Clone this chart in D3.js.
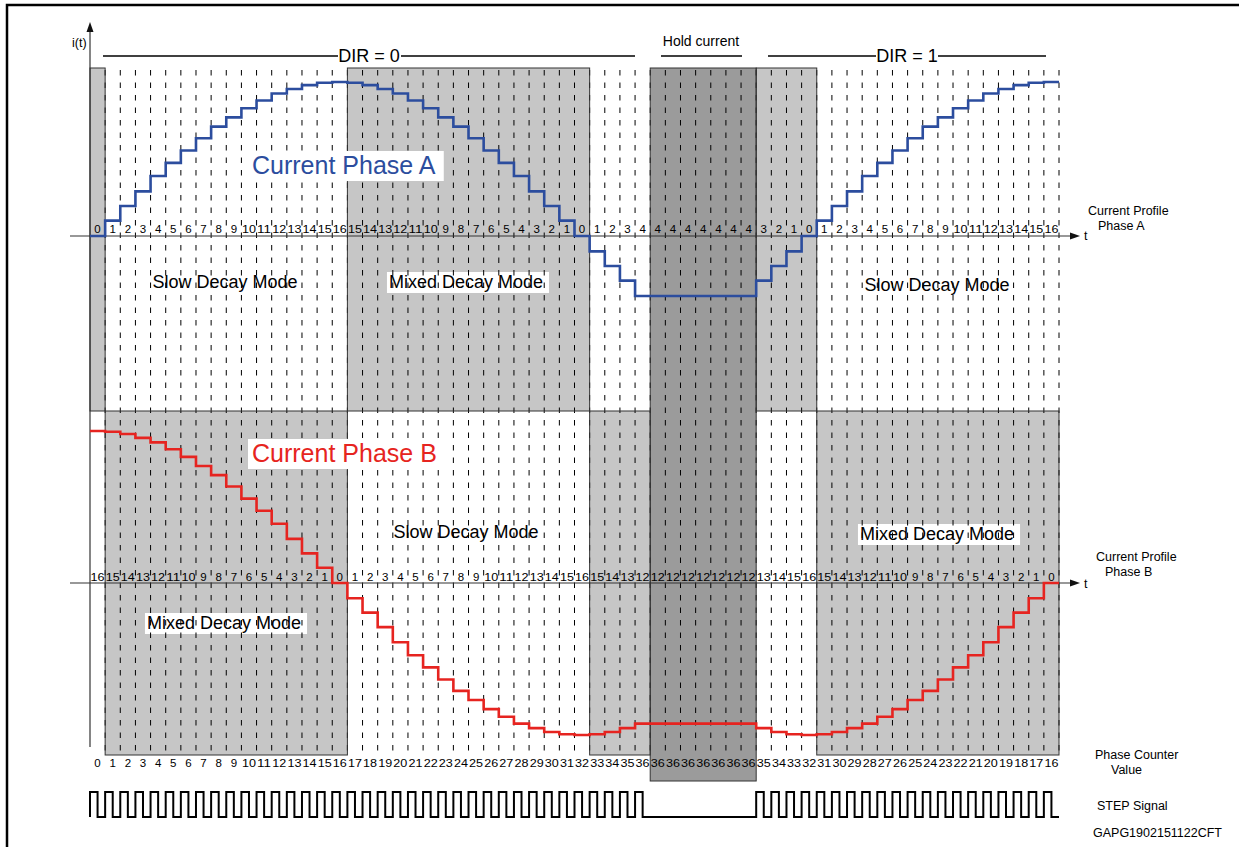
<!DOCTYPE html>
<html lang="en">
<head>
<meta charset="UTF-8" />
<title>Stepper current profile</title>
<script src="https://d3js.org/d3.v7.min.js"></script>
<style>
    body { margin: 0; background: #fff; }
    svg text { font-family: "Liberation Sans", Arial, sans-serif; }
</style>
</head>
<body>
<svg id="chart" width="1239" height="847"></svg>
<script>
    // microstep current table, % of full scale
    var levels = [0, 10, 19.5, 29, 39, 47.5, 55.5, 63.5, 71, 77, 83, 88, 92.5, 95.5, 98, 99.5, 100];

    // signed microstep index for every STEP column (64 columns)
    var phaseA = [0, 1, 2, 3, 4, 5, 6, 7, 8, 9, 10, 11, 12, 13, 14, 15, 16,
        15, 14, 13, 12, 11, 10, 9, 8, 7, 6, 5, 4, 3, 2, 1, 0,
        -1, -2, -3, -4,
        -4, -4, -4, -4, -4, -4, -4,
        -3, -2, -1, 0,
        1, 2, 3, 4, 5, 6, 7, 8, 9, 10, 11, 12, 13, 14, 15, 16];

    var phaseB = [16, 15, 14, 13, 12, 11, 10, 9, 8, 7, 6, 5, 4, 3, 2, 1, 0,
        -1, -2, -3, -4, -5, -6, -7, -8, -9, -10, -11, -12, -13, -14, -15, -16,
        -15, -14, -13, -12,
        -12, -12, -12, -12, -12, -12, -12,
        -13, -14, -15, -16,
        -15, -14, -13, -12, -11, -10, -9, -8, -7, -6, -5, -4, -3, -2, -1, 0];

    // phase counter value per column
    var counter = [0, 1, 2, 3, 4, 5, 6, 7, 8, 9, 10, 11, 12, 13, 14, 15, 16,
        17, 18, 19, 20, 21, 22, 23, 24, 25, 26, 27, 28, 29, 30, 31, 32,
        33, 34, 35, 36,
        36, 36, 36, 36, 36, 36, 36,
        35, 34, 33, 32,
        31, 30, 29, 28, 27, 26, 25, 24, 23, 22, 21, 20, 19, 18, 17, 16];

    // 1 = a STEP pulse in that column, 0 = no pulse (hold)
    var stepPulse = [1, 1, 1, 1, 1, 1, 1, 1, 1, 1, 1, 1, 1, 1, 1, 1, 1,
        1, 1, 1, 1, 1, 1, 1, 1, 1, 1, 1, 1, 1, 1, 1, 1,
        1, 1, 1, 1,
        0, 0, 0, 0, 0, 0, 0,
        1, 1, 1, 1,
        1, 1, 1, 1, 1, 1, 1, 1, 1, 1, 1, 1, 1, 1, 1, 1];

    // shaded column ranges [from, to)
    var upperShade = [[0, 1], [17, 33], [44, 48]];
    var lowerShade = [[1, 17], [33, 37], [48, 64]];
    var holdShade = [37, 44];

    var svg = d3.select("#chart");

    var x = d3.scaleLinear().domain([0, phaseA.length]).range([90, 1059]);
    var yA = d3.scaleLinear().domain([-100, 100]).range([390, 82]);
    var yB = d3.scaleLinear().domain([-100, 100]).range([735, 431]);

    var yTop = 68, yMid = 411, yBottom = 755;

    // outer frame
    svg.append("rect")
        .attr("x", 7).attr("y", 5).attr("width", 1245).attr("height", 860)
        .attr("fill", "none").attr("stroke", "#000").attr("stroke-width", 2.5);

    // shaded blocks (fill only)
    var shadeRects = [];
    upperShade.forEach(function (r) { shadeRects.push({ a: r[0], b: r[1], y0: yTop, y1: yMid, fill: "#c6c6c6" }); });
    lowerShade.forEach(function (r) { shadeRects.push({ a: r[0], b: r[1], y0: yMid, y1: yBottom, fill: "#c6c6c6" }); });
    shadeRects.push({ a: holdShade[0], b: holdShade[1], y0: yTop, y1: 781, fill: "#9b9b9b" });

    svg.append("g").selectAll("rect").data(shadeRects).enter().append("rect")
        .attr("x", d => x(d.a)).attr("y", d => d.y0)
        .attr("width", d => x(d.b) - x(d.a)).attr("height", d => d.y1 - d.y0)
        .attr("fill", d => d.fill);

    var boxLayer = svg.append("g");
    var dashLayer = svg.append("g");
    var edgeLayer = svg.append("g");
    var textLayer = svg.append("g");

    // dashed column boundaries
    dashLayer.selectAll("line").data(d3.range(1, phaseA.length + 1)).enter().append("line")
        .attr("x1", d => x(d)).attr("x2", d => x(d))
        .attr("y1", yTop + 2).attr("y2", yBottom - 2)
        .attr("stroke", "#000").attr("stroke-width", 1)
        .attr("stroke-dasharray", "5.5,7");

    // block outlines
    edgeLayer.selectAll("rect").data(shadeRects).enter().append("rect")
        .attr("x", d => x(d.a)).attr("y", d => d.y0)
        .attr("width", d => x(d.b) - x(d.a)).attr("height", d => d.y1 - d.y0)
        .attr("fill", "none").attr("stroke", "#333").attr("stroke-width", 1);

    // text with a white box behind it
    function boxedText(layer, bx, by, str, size, color, anchor, padL, padR) {
        var t = layer.append("text")
            .attr("x", bx).attr("y", by)
            .attr("text-anchor", anchor)
            .attr("fill", color)
            .style("font-size", size + "px")
            .text(str);
        var bb = t.node().getBBox();
        boxLayer.append("rect")
            .attr("x", bb.x - padL).attr("y", bb.y)
            .attr("width", bb.width + padL + padR).attr("height", bb.height + 1)
            .attr("fill", "#fff");
        return t;
    }

    // decay mode labels
    boxedText(textLayer, 225, 288, "Slow Decay Mode", 18, "#000", "middle", 2, 6);
    boxedText(textLayer, 466, 288, "Mixed Decay Mode", 18, "#000", "middle", 2, 6);
    boxedText(textLayer, 937, 291, "Slow Decay Mode", 18, "#000", "middle", 2, 6);
    boxedText(textLayer, 466, 538, "Slow Decay Mode", 18, "#000", "middle", 2, 6);
    boxedText(textLayer, 937, 540, "Mixed Decay Mode", 18, "#000", "middle", 2, 6);
    boxedText(textLayer, 224, 629, "Mixed Decay Mode", 18, "#000", "middle", 2, 6);

    // phase labels sit above the dashes
    var phaseLabels = svg.append("g");
    function phaseLabel(bx, by, str, color) {
        var t = phaseLabels.append("text")
            .attr("x", bx).attr("y", by)
            .attr("fill", color)
            .style("font-size", "25px")
            .text(str);
        var bb = t.node().getBBox();
        phaseLabels.insert("rect", "text")
            .attr("x", bb.x - 4).attr("y", bb.y)
            .attr("width", bb.width + 12).attr("height", bb.height + 2)
            .attr("fill", "#fff");
    }
    phaseLabel(252, 174, "Current Phase A", "#2c4d9e");
    phaseLabel(252, 462, "Current Phase B", "#e62420");

    // axes
    var axes = svg.append("g").attr("stroke", "#333").attr("stroke-width", 1.2);
    axes.append("line").attr("x1", 90).attr("x2", 90).attr("y1", 747).attr("y2", 28);
    axes.append("line").attr("x1", 70).attr("x2", 1073).attr("y1", yA(0)).attr("y2", yA(0));
    axes.append("line").attr("x1", 70).attr("x2", 1073).attr("y1", yB(0)).attr("y2", yB(0));
    var arrows = svg.append("g").attr("fill", "#111");
    arrows.append("path").attr("d", "M90,22 L86.5,32 L93.5,32 Z");
    arrows.append("path").attr("d", "M1080," + yA(0) + " L1070," + (yA(0) - 3.5) + " L1070," + (yA(0) + 3.5) + " Z");
    arrows.append("path").attr("d", "M1080," + yB(0) + " L1070," + (yB(0) - 3.5) + " L1070," + (yB(0) + 3.5) + " Z");

    var small = svg.append("g").attr("fill", "#000").style("font-size", "12.5px");
    small.append("text").attr("x", 72).attr("y", 47).text("i(t)");
    small.append("text").attr("x", 1084).attr("y", 240).text("t");
    small.append("text").attr("x", 1084).attr("y", 588).text("t");

    // column labels
    function colLabels(values, by) {
        svg.append("g").selectAll("text").data(values).enter().append("text")
            .attr("x", (d, i) => (x(i) + x(i + 1)) / 2)
            .attr("y", by)
            .attr("text-anchor", "middle")
            .attr("fill", "#000")
            .style("font-size", "11.5px")
            .attr("textLength", d => Math.abs(d) > 9 ? 14 : null)
            .attr("lengthAdjust", "spacingAndGlyphs")
            .text(d => Math.abs(d));
    }
    colLabels(phaseA, 233);
    colLabels(phaseB, 581);
    colLabels(counter, 767);

    // current staircases
    function stairs(values, yScale) {
        var pts = values.map((d, i) => [i, Math.sign(d) * levels[Math.abs(d)]]);
        pts.push([values.length, pts[pts.length - 1][1]]);
        return d3.line()
            .x(d => x(d[0]))
            .y(d => yScale(d[1]))
            .curve(d3.curveStepAfter)(pts);
    }
    svg.append("path").attr("d", stairs(phaseA, yA))
        .attr("fill", "none").attr("stroke", "#2c4d9e").attr("stroke-width", 2.6);
    svg.append("path").attr("d", stairs(phaseB, yB))
        .attr("fill", "none").attr("stroke", "#e62420").attr("stroke-width", 2.6);

    // STEP signal
    var hi = 792, lo = 817;
    var sp = [[x(0), lo]];
    stepPulse.forEach(function (p, i) {
        if (p) {
            sp.push([x(i), lo], [x(i), hi], [x(i + 0.5), hi], [x(i + 0.5), lo]);
        }
    });
    sp.push([x(stepPulse.length), lo]);
    svg.append("path").attr("d", d3.line()(sp))
        .attr("fill", "none").attr("stroke", "#000").attr("stroke-width", 2);

    // DIR / hold annotations
    var ann = svg.append("g");
    var lineY = 56;
    function annLine(x1, x2) {
        ann.append("line").attr("x1", x1).attr("x2", x2).attr("y1", lineY).attr("y2", lineY)
            .attr("stroke", "#000").attr("stroke-width", 1.5);
    }
    annLine(103, 338); annLine(401, 635);
    annLine(661, 742);
    annLine(768, 876); annLine(938, 1046);
    ann.append("text").attr("x", 369).attr("y", 62).attr("text-anchor", "middle")
        .style("font-size", "18px").text("DIR = 0");
    ann.append("text").attr("x", 907).attr("y", 62).attr("text-anchor", "middle")
        .style("font-size", "18px").text("DIR = 1");
    ann.append("text").attr("x", 701).attr("y", 46).attr("text-anchor", "middle")
        .style("font-size", "14px").text("Hold current");

    // right hand legend
    var side = svg.append("g").style("font-size", "12.5px").attr("fill", "#000");
    side.append("text").attr("x", 1088).attr("y", 215).text("Current Profile");
    side.append("text").attr("x", 1098).attr("y", 230).text("Phase A");
    side.append("text").attr("x", 1096).attr("y", 561).text("Current Profile");
    side.append("text").attr("x", 1105).attr("y", 576).text("Phase B");
    side.append("text").attr("x", 1095).attr("y", 759).text("Phase Counter");
    side.append("text").attr("x", 1111).attr("y", 774).text("Value");
    side.append("text").attr("x", 1097).attr("y", 810).text("STEP Signal");
    side.append("text").attr("x", 1093).attr("y", 837).text("GAPG1902151122CFT");
</script>
</body>
</html>
